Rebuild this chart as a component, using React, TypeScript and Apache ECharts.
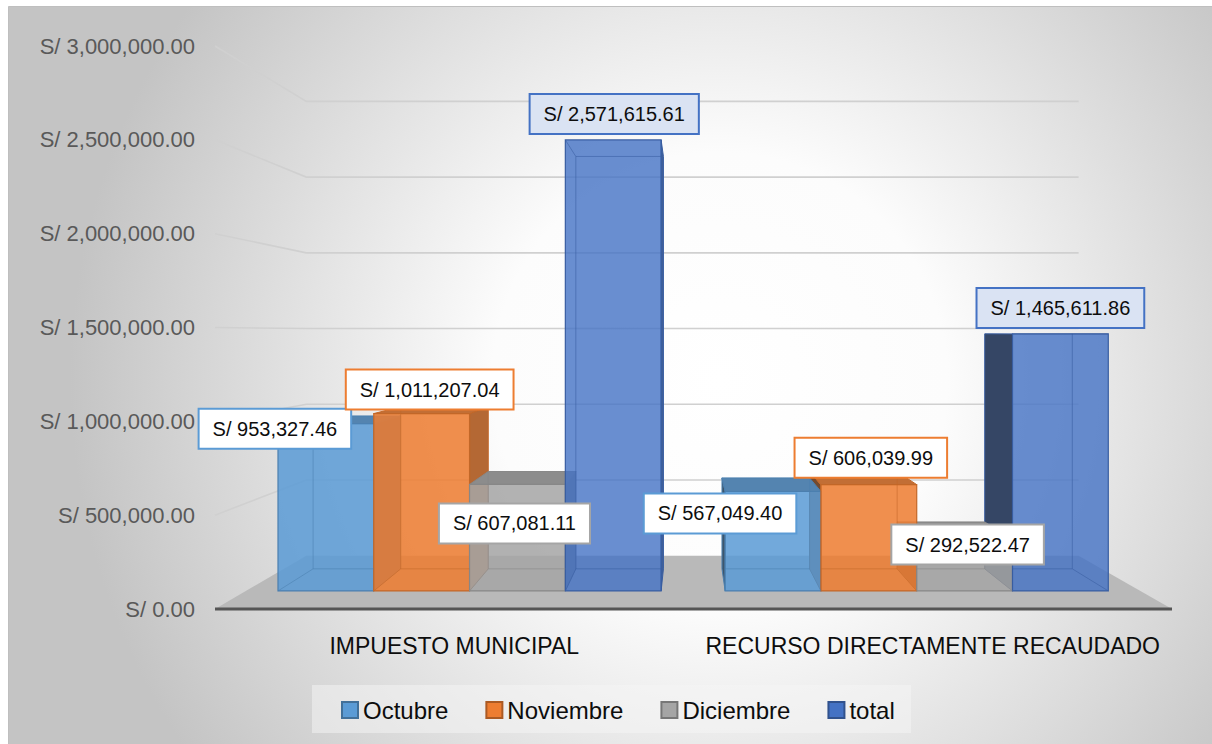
import React, { useEffect, useRef } from "react";
import * as echarts from "echarts";

// ---------- data ----------
const categories = ["IMPUESTO MUNICIPAL", "RECURSO DIRECTAMENTE RECAUDADO"];
const seriesNames = ["Octubre", "Noviembre", "Diciembre", "total"];
const octubre = [953327.46, 567049.4];
const noviembre = [1011207.04, 606039.99];
const diciembre = [607081.11, 292522.47];
const total = [2571615.61, 1465611.86];
const yTicks = [0, 500000, 1000000, 1500000, 2000000, 2500000, 3000000];

// ---------- style / layout ----------
const FONT = '"Liberation Sans", Arial, sans-serif';
const COLORS = ["#5B9BD5", "#ED7D31", "#A5A5A5", "#4472C4"];
const FRONT_ALPHA = [0.86, 0.86, 0.86, 0.8];
const LABEL_BG = ["#ffffff", "#ffffff", "#ffffff", "#DAE3F3"];
// label centre offsets from the bar's front-top centre (per series, per category)
const LABEL_OFFSETS = [
  [[-51, 5], [-53, 22]],
  [[8, -24], [2, -27]],
  [[-3, 39], [3, 5]],
  [[1, -26], [0, -26]],
];
// perspective camera
const VX = 688;
const VY = 333;
const S_FRONT = 0.9345;
const S_BACK = 0.8545;
const S_WALL = 0.807;
const BAR_FRAC = 0.2142;

const seriesData = [octubre, noviembre, diciembre, total];

function proj(x: number, y: number, s: number): number[] {
  return [VX + (x - VX) * s, VY + (y - VY) * s];
}

function hexToRgb(h: string) {
  const n = parseInt(h.slice(1), 16);
  return [(n >> 16) & 255, (n >> 8) & 255, n & 255];
}
function mix(a: string, b: string, t: number) {
  const A = hexToRgb(a);
  const B = hexToRgb(b);
  const c = A.map((v, i) => Math.round(v * (1 - t) + B[i] * t));
  return `rgb(${c[0]},${c[1]},${c[2]})`;
}
function rgba(a: string, al: number) {
  const A = hexToRgb(a);
  return `rgba(${A[0]},${A[1]},${A[2]},${al})`;
}

const fmt = (v: number) => {
  const [i, d] = Math.abs(v).toFixed(2).split(".");
  return "S/ " + i.replace(/\B(?=(\d{3})+(?!\d))/g, ",") + "." + d;
};

function wallsRender(params: any, api: any) {
  const v = api.value(1);
  const cs = params.coordSys;
  const y = api.coord([0, v])[1];
  const xl = cs.x;
  const xr = cs.x + cs.width;
  if (v === 0) {
    return {
      type: "group",
      children: [
        {
          type: "polygon",
          z2: 0,
          shape: { points: [proj(xl, y, 1), proj(xr, y, 1), proj(xr, y, S_WALL), proj(xl, y, S_WALL)] },
          style: { fill: "#b9b9b9" },
        },
        {
          type: "line",
          z2: 1,
          shape: { x1: xl, y1: y, x2: xr, y2: y },
          style: { stroke: "#555555", lineWidth: 3 },
        },
      ],
    };
  }
  return {
    type: "polyline",
    z2: 0,
    shape: { points: [proj(xl, y, 1), proj(xl, y, S_WALL), proj(xr, y, S_WALL)] },
    style: { stroke: "#d0d0d0", lineWidth: 1.6, fill: null },
  };
}

function makeBarRender(si: number) {
  return (params: any, api: any) => {
    const cat = api.value(0);
    const v = api.value(1);
    const band = api.size([1, 0])[0];
    const bw = band * BAR_FRAC;
    const c = api.coord([cat, 0]);
    const t = api.coord([cat, v]);
    const x0 = c[0] - 2 * bw + si * bw;
    const x1 = x0 + bw;
    const yb = c[1];
    const yt = t[1];
    const F = (x: number, y: number) => proj(x, y, S_FRONT);
    const B = (x: number, y: number) => proj(x, y, S_BACK);
    const flb = F(x0, yb), frb = F(x1, yb), frt = F(x1, yt), flt = F(x0, yt);
    const blb = B(x0, yb), brb = B(x1, yb), brt = B(x1, yt), blt = B(x0, yt);
    const col = COLORS[si];
    const edge = mix(col, "#000000", 0.18);
    const children: any[] = [];
    const leftSide = frb[0] <= VX;
    // side faces
    if (leftSide) {
      children.push({
        type: "polygon", z2: 1,
        shape: { points: [frb, frt, brt, brb] },
        style: { fill: mix(col, "#3a3a3a", 0.32), stroke: edge, lineWidth: 1 },
      });
    } else {
      children.push({
        type: "polygon", z2: 1,
        shape: { points: [flb, flt, blt, blb] },
        style: { fill: mix(col, "#2b2b2b", 0.62), stroke: edge, lineWidth: 1 },
      });
    }
    const topVisible = flt[1] > blt[1] + 0.5;
    if (topVisible) {
      children.push({
        type: "polygon", z2: 2,
        shape: { points: [flt, frt, brt, blt] },
        style: { fill: mix(col, "#404040", 0.25), stroke: edge, lineWidth: 1 },
      });
    }
    // front face
    children.push({
      type: "polygon", z2: 3,
      shape: { points: [flb, frb, frt, flt] },
      style: { fill: rgba(col, FRONT_ALPHA[si]), stroke: edge, lineWidth: 1.2 },
    });
    // back edges seen through the translucent front
    const wire: number[][][] = [];
    if (leftSide) {
      wire.push([blt, blb, [frb[0], blb[1]]]);
      wire.push([flb, blb]);
      if (!topVisible) {
        wire.push([flt, blt, [frt[0], blt[1]]]);
      }
    } else {
      wire.push([brt, brb, [flb[0], brb[1]]]);
      wire.push([frb, brb]);
      if (!topVisible) {
        wire.push([frt, brt, [flt[0], brt[1]]]);
      }
    }
    wire.forEach((pts) =>
      children.push({
        type: "polyline", z2: 4,
        shape: { points: pts },
        style: { stroke: edge, lineWidth: 1, opacity: 0.55, fill: null },
      })
    );
    // data label
    const off = LABEL_OFFSETS[si][cat];
    children.push({
      type: "text", z2: 10,
      style: {
        text: fmt(v),
        x: (flt[0] + frt[0]) / 2 + off[0],
        y: flt[1] + off[1],
        align: "center",
        verticalAlign: "middle",
        fontSize: 20,
        fontFamily: FONT,
        fill: "#0d0d0d",
        backgroundColor: LABEL_BG[si],
        borderColor: col,
        borderWidth: 2,
        padding: [9, 13, 9, 13],
      },
    });
    return { type: "group", children };
  };
}

export default function App() {
  const ref = useRef<HTMLDivElement>(null);
  useEffect(() => {
    const chart = echarts.init(ref.current!, undefined, { renderer: "svg" });
    const option: any = {
      animation: false,
      textStyle: { fontFamily: FONT },
      graphic: [
        {
          type: "rect",
          z: -10,
          shape: { x: 8.5, y: 6.5, width: 1300, height: 800 },
          style: {
            fill: {
              type: "radial",
              x: 720,
              y: 380,
              r: 650,
              global: true,
              colorStops: [
                { offset: 0, color: "#ffffff" },
                { offset: 0.35, color: "#fcfcfc" },
                { offset: 1, color: "#c4c4c4" },
              ],
            },
            stroke: "#bfbfbf",
            lineWidth: 1,
          },
        },
        {
          type: "rect",
          z: -9,
          shape: { x: 312, y: 685, width: 599, height: 48 },
          style: { fill: "rgba(245,245,245,0.5)" },
        },
      ],
      legend: {
        data: seriesNames.map((n, i) => ({
          name: n,
          itemStyle: { color: COLORS[i], borderColor: mix(COLORS[i], "#000000", 0.28), borderWidth: 2 },
        })),
        icon: "rect",
        itemWidth: 16,
        itemHeight: 16,
        itemGap: 37,
        padding: 0,
        left: 341,
        top: 698,
        textStyle: { fontSize: 24, fontFamily: FONT, color: "#0d0d0d", lineHeight: 24 },
      },
      grid: { left: 215, right: 40, top: 46, bottom: 135 },
      xAxis: {
        type: "category",
        data: categories,
        axisLine: { show: false },
        axisTick: { show: false },
        axisLabel: { interval: 0, fontSize: 23, color: "#0d0d0d", margin: 25, fontFamily: FONT },
        splitLine: { show: false },
      },
      yAxis: {
        type: "value",
        min: 0,
        max: 3000000,
        interval: 500000,
        axisLine: { show: false },
        axisTick: { show: false },
        splitLine: { show: false },
        axisLabel: { fontSize: 22, color: "#595959", margin: 20, fontFamily: FONT, formatter: (v: number) => fmt(v) },
      },
      series: [
        {
          type: "custom",
          name: "__walls",
          renderItem: wallsRender,
          encode: { x: 0, y: 1 },
          data: yTicks.map((v) => [0, v]),
          silent: true,
        },
        ...seriesNames.map((n, si) => ({
          type: "custom",
          name: n,
          renderItem: makeBarRender(si),
          encode: { x: 0, y: 1 },
          itemStyle: { color: COLORS[si] },
          data: seriesData[si].map((v, i) => [i, v]),
        })),
      ],
    };
    chart.setOption(option);
    return () => chart.dispose();
  }, []);
  return (
    <div
      ref={ref}
      style={{ position: "absolute", left: 0, top: 0, width: 1212, height: 744, background: "#ffffff" }}
    />
  );
}
